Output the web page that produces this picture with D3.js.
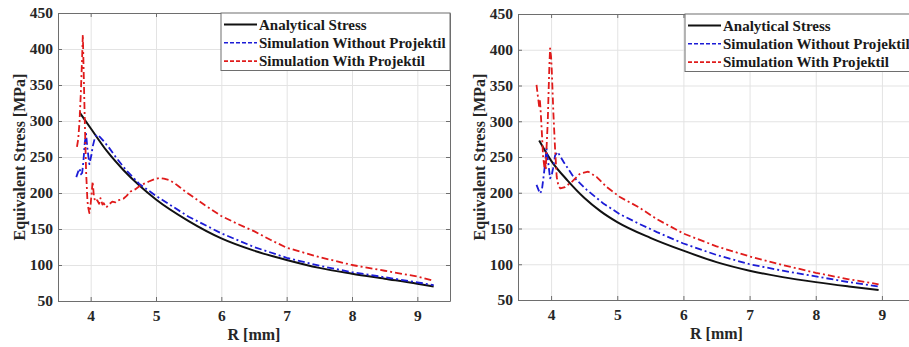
<!DOCTYPE html>
<html>
<head>
<meta charset="utf-8">
<script src="https://cdn.jsdelivr.net/npm/d3@7"></script>
<style>
  body { margin: 0; background: #fff; overflow: hidden; }
  svg { display: block; font-family: "Liberation Serif", "Times New Roman", Times, "DejaVu Serif", serif; }
  .tick-label { font-family: "Liberation Serif", "Times New Roman", Times, "DejaVu Serif", serif; font-size: 15.5px; font-weight: bold; fill: #262626; }
  .axis-title { font-family: "Liberation Serif", "Times New Roman", Times, "DejaVu Serif", serif; font-size: 16px; font-weight: bold; fill: #262626; }
  .legend-text { font-family: "Liberation Serif", "Times New Roman", Times, "DejaVu Serif", serif; font-size: 15px; font-weight: bold; fill: #1a1a1a; }
</style>
</head>
<body>
<svg id="chart"></svg>
<script>
// shared ticks
const xTicks = [4, 5, 6, 7, 8, 9]
const yTicks = [50, 100, 150, 200, 250, 300, 350, 400, 450]
const seriesNames = ['Analytical Stress', 'Simulation Without Projektil', 'Simulation With Projektil']

// left panel
const leftAnalyticalR = [3.83, 4.0, 4.25, 4.5, 4.75, 5.0, 5.5, 6.0, 6.5, 7.0, 7.5, 8.0, 8.5, 9.0, 9.25]
const leftAnalytical  = [312, 290, 258, 232, 210, 191, 161, 137, 120, 107, 96, 88, 81, 74, 70]

const leftWithoutR = [3.78, 3.81, 3.83, 3.85, 3.87, 3.89, 3.91, 3.93, 3.95, 3.98, 4.01, 4.03, 4.06, 4.09, 4.12, 4.15, 4.2, 4.28, 4.4, 4.54, 4.74, 5.0, 5.5, 6.0, 6.5, 7.0, 7.5, 8.0, 8.5, 9.0, 9.25]
const leftWithout  = [222, 230, 234, 226, 228, 245, 270, 282, 262, 240, 252, 264, 275, 281, 280, 277, 272, 263, 248, 232, 213, 196, 167, 144, 125, 110, 99, 90, 83, 76, 72]

const leftWithR = [3.79, 3.81, 3.83, 3.85, 3.87, 3.88, 3.89, 3.91, 3.93, 3.95, 3.96, 3.98, 4.0, 4.02, 4.03, 4.05, 4.07, 4.1, 4.13, 4.15, 4.18, 4.2, 4.23, 4.25, 4.28, 4.33, 4.38, 4.43, 4.5, 4.55, 4.61, 4.68, 4.74, 4.82, 4.89, 4.97, 5.05, 5.12, 5.2, 5.28, 5.35, 5.45, 5.56, 5.75, 6.0, 6.25, 6.5, 6.75, 7.0, 7.5, 8.0, 8.5, 9.0, 9.25]
const leftWith  = [264, 275, 300, 340, 390, 420, 380, 300, 230, 190, 181, 172, 185, 205, 216, 195, 188, 190, 185, 193, 184, 186, 180, 181, 184, 188, 187, 190, 192, 196, 202, 205, 209, 213, 216, 219, 221, 220, 218, 214, 209, 202, 195, 183, 168, 157, 147, 135, 124, 111, 100, 92, 84, 78]

// right panel
const rightAnalyticalR = [3.82, 4.0, 4.25, 4.5, 4.75, 5.0, 5.5, 6.0, 6.5, 7.0, 7.5, 8.0, 8.5, 8.95]
const rightAnalytical  = [273, 245, 217, 193, 174, 159, 137, 119, 103, 91, 82, 75, 69, 64]

const rightWithoutR = [3.78, 3.81, 3.83, 3.86, 3.89, 3.91, 3.93, 3.96, 3.985, 4.01, 4.03, 4.06, 4.1, 4.19, 4.34, 4.54, 4.79, 5.04, 5.32, 5.6, 6.0, 6.5, 7.0, 7.5, 8.0, 8.5, 8.95]
const rightWithout  = [211, 204, 199, 203, 225, 241, 262, 240, 220, 225, 234, 252, 257, 243, 222, 204, 185, 170, 157, 145, 129, 113, 100, 91, 83, 75, 69]

const rightWithR = [3.78, 3.8, 3.81, 3.82, 3.83, 3.84, 3.86, 3.88, 3.9, 3.91, 3.92, 3.93, 3.95, 3.96, 3.975, 3.985, 4.0, 4.01, 4.035, 4.06, 4.085, 4.11, 4.14, 4.21, 4.31, 4.44, 4.56, 4.69, 4.84, 5.04, 5.32, 5.6, 6.0, 6.5, 7.0, 7.5, 8.0, 8.5, 8.95]
const rightWith  = [351, 335, 328, 320, 330, 318, 285, 250, 235, 245, 232, 260, 300, 334, 380, 402, 390, 372, 311, 262, 222, 210, 206, 208, 215, 227, 229.5, 222, 208, 194, 180, 163, 143, 125, 111, 99, 88, 79, 72]

const zip = (xs, ys) => xs.map((x, i) => ({r: x, v: ys[i]}))

class StressPanel {

    constructor(_config, _series) {
        this.config = {
            svg: _config.svg,
            left: _config.left,
            top: _config.top,
            width: _config.width,
            height: _config.height,
            legend: _config.legend
        }
        this.series = _series
        this.initVis()
    }

    initVis() {
        let vis = this
        const c = vis.config

        vis.xScale = d3.scaleLinear().domain([3.5, 9.5]).range([0, c.width])
        vis.yScale = d3.scaleLinear().domain([50, 450]).range([c.height, 0])

        vis.chart = c.svg.append('g')
            .attr('transform', `translate(${c.left},${c.top})`)

        // grid
        vis.chart.append('g')
            .call(d3.axisBottom(vis.xScale).tickValues(xTicks).tickSize(c.height).tickFormat(''))
            .call(g => g.select('.domain').remove())
            .call(g => g.selectAll('line').attr('stroke', '#e3e3e3'))
        vis.chart.append('g')
            .call(d3.axisRight(vis.yScale).tickValues(yTicks).tickSize(c.width).tickFormat(''))
            .call(g => g.select('.domain').remove())
            .call(g => g.selectAll('line').attr('stroke', '#e3e3e3'))

        // axes with inward ticks
        vis.chart.append('g')
            .attr('font-family', null)
            .attr('transform', `translate(0,${c.height})`)
            .call(d3.axisBottom(vis.xScale).tickValues(xTicks).tickFormat(d3.format('d')).tickSizeInner(-4).tickSizeOuter(0).tickPadding(9))
            .attr('font-family', null)
            .call(g => g.select('.domain').attr('stroke', '#6e6e6e'))
            .call(g => g.selectAll('line').attr('stroke', '#6e6e6e'))
            .call(g => g.selectAll('text').attr('class', 'tick-label'))
        vis.chart.append('g')
            .call(d3.axisLeft(vis.yScale).tickValues(yTicks).tickSizeInner(-4).tickSizeOuter(0).tickPadding(5))
            .attr('font-family', null)
            .call(g => g.select('.domain').attr('stroke', '#6e6e6e'))
            .call(g => g.selectAll('line').attr('stroke', '#6e6e6e'))
            .call(g => g.selectAll('text').attr('class', 'tick-label'))
        vis.chart.append('g')
            .call(d3.axisTop(vis.xScale).tickValues(xTicks).tickSizeInner(-4).tickSizeOuter(0).tickFormat(''))
            .call(g => g.selectAll('path, line').attr('stroke', '#6e6e6e'))
        vis.chart.append('g')
            .attr('transform', `translate(${c.width},0)`)
            .call(d3.axisRight(vis.yScale).tickValues(yTicks).tickSizeInner(-4).tickSizeOuter(0).tickFormat(''))
            .call(g => g.selectAll('path, line').attr('stroke', '#6e6e6e'))

        vis.chart.append('text')
            .attr('class', 'axis-title')
            .attr('x', vis.xScale(6.5))
            .attr('y', c.height + 39)
            .attr('text-anchor', 'middle')
            .text('R [mm]')

        vis.chart.append('text')
            .attr('class', 'axis-title')
            .attr('transform', `translate(${-39},${c.height / 2}) rotate(-90)`)
            .attr('dy', '0.35em')
            .attr('text-anchor', 'middle')
            .text('Equivalent Stress [MPa]')

        vis.renderVis()
    }

    renderVis() {
        let vis = this
        const c = vis.config

        const line = d3.line()
            .x(d => vis.xScale(d.r))
            .y(d => vis.yScale(d.v))

        vis.series.forEach(s => {
            vis.chart.append('path')
                .datum(s.values)
                .attr('fill', 'none')
                .attr('stroke', s.color)
                .attr('stroke-width', s.dash ? 1.8 : 2)
                .attr('stroke-dasharray', s.dash || null)
                .attr('stroke-linejoin', 'round')
                .attr('d', line.curve(s.dash ? d3.curveLinear : d3.curveMonotoneX))
        })

        // legend
        const lg = vis.chart.append('g')
            .attr('transform', `translate(${c.legend.x},0)`)
        lg.append('rect')
            .attr('x', 0).attr('y', 0)
            .attr('width', c.legend.w).attr('height', 57.5)
            .attr('fill', '#fff')
            .attr('stroke', '#6e6e6e')
        vis.series.forEach((s, i) => {
            const y = 11.5 + i * 18.3
            lg.append('line')
                .attr('x1', 3).attr('x2', 36)
                .attr('y1', y).attr('y2', y)
                .attr('stroke', s.color)
                .attr('stroke-width', s.dash ? 1.6 : 2)
                .attr('stroke-dasharray', s.dash ? '4,2' : null)
            lg.append('text')
                .attr('class', 'legend-text')
                .attr('x', 38)
                .attr('y', y)
                .attr('dy', '0.34em')
                .text(s.name)
        })
    }
}

const svg = d3.select('#chart')
    .attr('width', 909)
    .attr('height', 347)

new StressPanel({svg: svg, left: 58, top: 13, width: 392, height: 288, legend: {x: 163, w: 229}}, [
    {name: seriesNames[0], color: '#111', values: zip(leftAnalyticalR, leftAnalytical)},
    {name: seriesNames[1], color: '#1c1cd6', dash: '7,3,2,3', values: zip(leftWithoutR, leftWithout)},
    {name: seriesNames[2], color: '#e01b1b', dash: '7,3,2,3', values: zip(leftWithR, leftWith)}
])

new StressPanel({svg: svg, left: 518, top: 14, width: 397, height: 286, legend: {x: 167, w: 240}}, [
    {name: seriesNames[0], color: '#111', values: zip(rightAnalyticalR, rightAnalytical)},
    {name: seriesNames[1], color: '#1c1cd6', dash: '7,3,2,3', values: zip(rightWithoutR, rightWithout)},
    {name: seriesNames[2], color: '#e01b1b', dash: '7,3,2,3', values: zip(rightWithR, rightWith)}
])
</script>
</body>
</html>
